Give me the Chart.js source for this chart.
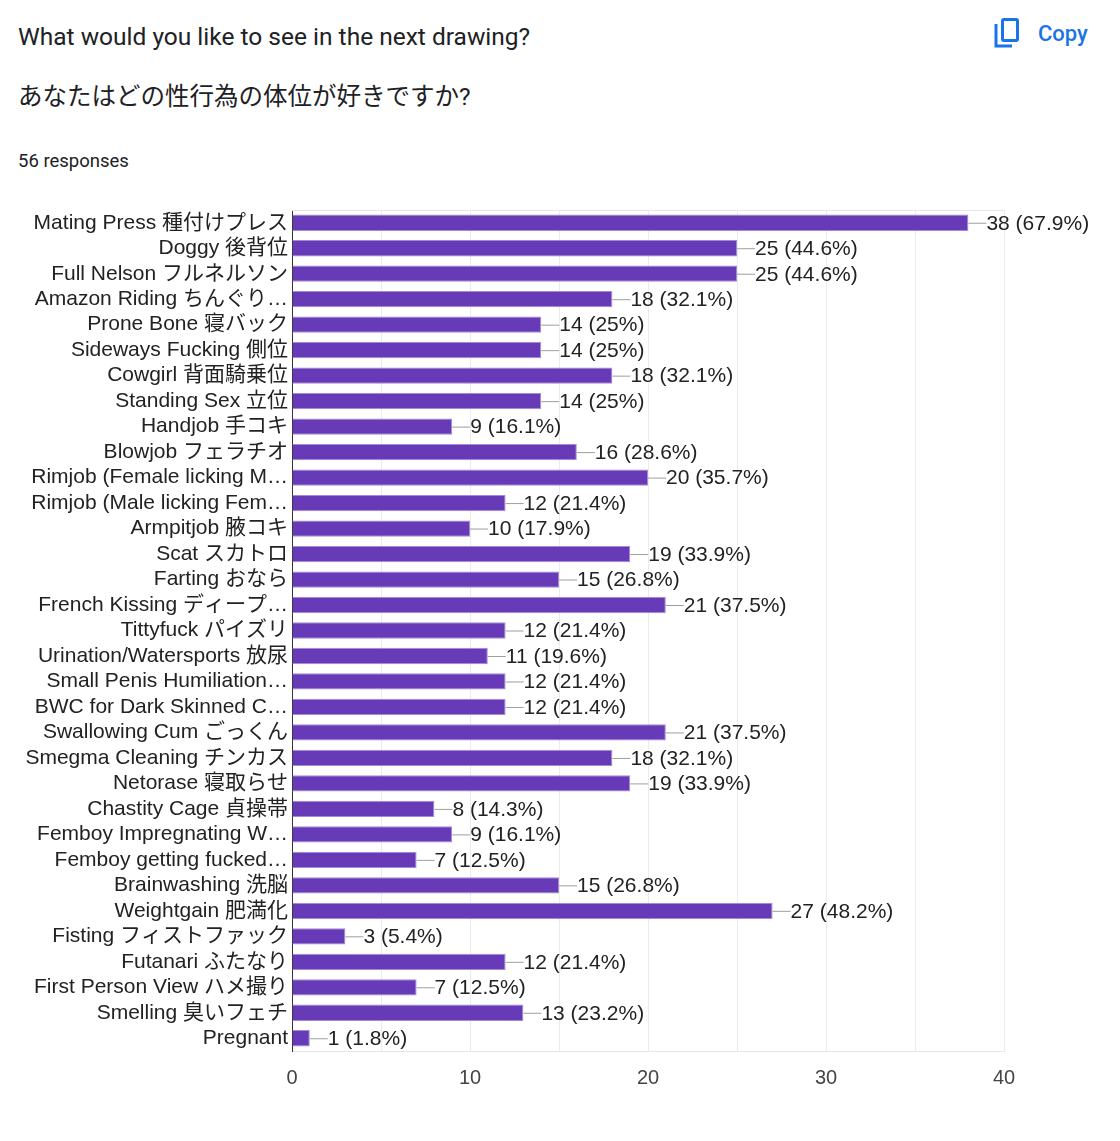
<!DOCTYPE html>
<html>
<head>
<meta charset="utf-8">
<script src="https://cdn.jsdelivr.net/npm/chart.js@4.4.0/dist/chart.umd.min.js"></script>
<style>
  body { margin: 0; background: #fff; width: 1120px; height: 1141px; position: relative; overflow: hidden; font-family: Roboto, "Noto Sans CJK JP", sans-serif; color: #202124; }
  .q { position: absolute; left: 18px; font-size: 24.5px; line-height: 30px; }
  #q1 { top: 22px; }
  #q2 { top: 82px; }
  #resp { position: absolute; left: 18px; top: 150px; font-size: 18.5px; color: #202124; }
  #copy { position: absolute; left: 993px; top: 17px; display: flex; align-items: center; color: #1a73e8; font-size: 22px; font-weight: 500; }
  #copy svg { margin-right: 17px; }
  #wrap { position: absolute; left: 0; top: 200px; width: 1120px; height: 910px; }
</style>
</head>
<body>
<div class="q" id="q1">What would you like to see in the next drawing?</div>
<div class="q" id="q2">あなたはどの性行為の体位が好きですか?</div>
<div id="resp">56 responses</div>
<div id="copy">
  <svg width="28" height="32" viewBox="0 0 28 32">
    <path d="M3 7 V29 H19" fill="none" stroke="#1a73e8" stroke-width="3"/>
    <rect x="9.5" y="2.5" width="15" height="21" rx="1.5" fill="none" stroke="#1a73e8" stroke-width="3"/>
  </svg>
  Copy
</div>
<div id="wrap"><canvas id="grafico"></canvas></div>
<script>
const categorias = [
  'Mating Press 種付けプレス', 'Doggy 後背位', 'Full Nelson フルネルソン', 'Amazon Riding ちんぐり…',
  'Prone Bone 寝バック', 'Sideways Fucking 側位', 'Cowgirl 背面騎乗位', 'Standing Sex 立位',
  'Handjob 手コキ', 'Blowjob フェラチオ', 'Rimjob (Female licking M…', 'Rimjob (Male licking Fem…',
  'Armpitjob 腋コキ', 'Scat スカトロ', 'Farting おなら', 'French Kissing ディープ…',
  'Tittyfuck パイズリ', 'Urination/Watersports 放尿', 'Small Penis Humiliation…', 'BWC for Dark Skinned C…',
  'Swallowing Cum ごっくん', 'Smegma Cleaning チンカス', 'Netorase 寝取らせ', 'Chastity Cage 貞操帯',
  'Femboy Impregnating W…', 'Femboy getting fucked…', 'Brainwashing 洗脳', 'Weightgain 肥満化',
  'Fisting フィストファック', 'Futanari ふたなり', 'First Person View ハメ撮り', 'Smelling 臭いフェチ',
  'Pregnant'
];
const respostas = [38, 25, 25, 18, 14, 14, 18, 14, 9, 16, 20, 12, 10, 19, 15, 21, 12, 11, 12, 12,
  21, 18, 19, 8, 9, 7, 15, 27, 3, 12, 7, 13, 1];
const totalRespostas = 56;
const ticksX = [0, 10, 20, 30, 40];

const fonte = '"Liberation Sans", Arial, "Noto Sans CJK JP", sans-serif';

function rotulo(v) {
  const p = Math.round(v / totalRespostas * 1000) / 10;
  return v + ' (' + p + '%)';
}

// leader line + value label, plus the top edge of the plot
const rotulosPlugin = {
  id: 'rotulos',
  beforeDatasetsDraw(chart) {
    const { ctx, chartArea: a } = chart;
    ctx.save();
    ctx.strokeStyle = '#e6e6e6';
    ctx.lineWidth = 1;
    ctx.beginPath();
    ctx.moveTo(a.left, a.top + 0.5);
    ctx.lineTo(a.right, a.top + 0.5);
    ctx.stroke();
    ctx.restore();
  },
  afterDatasetsDraw(chart) {
    const ctx = chart.ctx;
    const meta = chart.getDatasetMeta(0);
    ctx.save();
    ctx.font = '21px ' + fonte;
    ctx.textBaseline = 'middle';
    ctx.textAlign = 'left';
    meta.data.forEach((bar, i) => {
      const x = bar.x, y = bar.y;
      ctx.strokeStyle = '#9e9e9e';
      ctx.lineWidth = 1;
      ctx.beginPath();
      ctx.moveTo(x, y + 0.5);
      ctx.lineTo(x + 18, y + 0.5);
      ctx.stroke();
      ctx.fillStyle = '#222222';
      ctx.fillText(rotulo(respostas[i]), x + 18, y + 1);
    });
    ctx.restore();
  }
};

const ctx = document.getElementById('grafico').getContext('2d');
new Chart(ctx, {
  type: 'bar',
  data: {
    labels: categorias,
    datasets: [{
      data: respostas,
      backgroundColor: '#673ab7',
      borderColor: '#a48ad6',
      borderWidth: 1,
      barPercentage: 0.64,
      categoryPercentage: 1
    }]
  },
  options: {
    indexAxis: 'y',
    responsive: true,
    maintainAspectRatio: false,
    animation: false,
    layout: { padding: { top: 10, right: 116, bottom: 0, left: 0 } },
    plugins: {
      legend: { display: false },
      tooltip: { enabled: false }
    },
    scales: {
      x: {
        min: 0,
        max: 40,
        afterFit(scale) { scale.height = 59; scale.paddingLeft = 0; scale.paddingRight = 0; },
        afterBuildTicks(scale) {
          scale.ticks = [];
          for (let v = 0; v <= 40; v += 5) scale.ticks.push({ value: v });
        },
        grid: { color: '#ebebeb', drawTicks: false },
        border: { color: '#e6e6e6' },
        ticks: {
          padding: 15,
          color: '#444444',
          font: { family: fonte, size: 20 },
          callback: (v) => ticksX.includes(v) ? String(v) : ''
        }
      },
      y: {
        afterFit(scale) { scale.width = 292; scale.paddingTop = 0; scale.paddingBottom = 0; },
        grid: { display: false, drawTicks: false },
        border: { color: '#333333', width: 1 },
        ticks: {
          padding: 4,
          color: '#222222',
          autoSkip: false,
          font: { family: fonte, size: 21 }
        }
      }
    }
  },
  plugins: [rotulosPlugin]
});
</script>
</body>
</html>
